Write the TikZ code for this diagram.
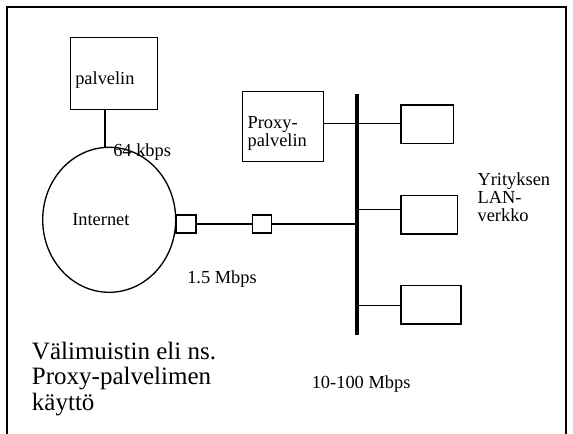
\documentclass[tikz,border=0pt]{standalone}
\usepackage{fontspec}
\setmainfont{Liberation Serif}
\usetikzlibrary{shapes.geometric}
\begin{document}
\begin{tikzpicture}[x=0.75pt,y=-0.75pt,
  wire/.style={line width=1pt},
  boxn/.style={draw,line width=1pt,inner sep=0pt,rectangle},
  lbl/.style={inner sep=0pt,anchor=base west,font=\fontsize{13.8}{13.7}\selectfont},
  mlbl/.style={lbl,align=left},
  titl/.style={inner sep=0pt,anchor=base west,align=left,font=\fontsize{18.75}{19.3}\selectfont}]
\useasboundingbox (0,0) rectangle (573,434);
% frame
\draw[line width=1.5pt] (7,440) -- (7,7) -- (566,7) -- (566,440);
% server
\node[boxn,minimum width=86.6*0.75pt,minimum height=72*0.75pt] (srv) at (114,73.3) {};
\node[lbl] (srvt) at (75,85) {palvelin};
% internet
\node[draw,ellipse,line width=1pt,inner sep=0pt,minimum width=133*0.75pt,minimum height=145*0.75pt] (net) at (109.2,219.8) {};
\node[lbl] (nett) at (72,225.7) {Internet};
\draw[wire] (srv.south -| 105,0) -- (105,147.3) coordinate (nettop);
\node[lbl] (k64) at (113,156.5) {64 kbps};
% routers
\node[boxn,fill=white,minimum width=20*0.75pt,minimum height=18*0.75pt] (ra) at (186,224) {};
\node[boxn,minimum width=19*0.75pt,minimum height=18*0.75pt] (rb) at (262.2,224) {};
\node[lbl] (m15) at (187,283.5) {1.5 Mbps};
% bus
\coordinate (bustop) at (356.7,94);
\coordinate (busbot) at (356.7,335);
\draw[line width=3pt] (bustop) -- (busbot);
% proxy
\node[boxn,minimum width=80.6*0.75pt,minimum height=70*0.75pt] (prx) at (283,126.7) {};
\node[mlbl] (prxt) at (247.3,146.7) {Proxy-\\palvelin};
% LAN hosts
\node[boxn,minimum width=52.3*0.75pt,minimum height=38.3*0.75pt] (h1) at (427.2,124.2) {};
\node[boxn,minimum width=56.7*0.75pt,minimum height=38.3*0.75pt] (h2) at (429.4,214.8) {};
\node[boxn,minimum width=60*0.75pt,minimum height=38.3*0.75pt] (h3) at (431,304.9) {};
% connectors
\draw[wire] (ra.east) -- (rb.west);
\draw[wire] (rb.east) -- (bustop |- rb.east);
\draw[wire] (prx.east |- 0,123.3) -- (h1.west |- 0,123.3);
\draw[wire] (bustop |- 0,209.3) -- (h2.west |- 0,209.3);
\draw[wire] (bustop |- 0,305.7) -- (h3.west |- 0,305.7);
\node[mlbl] (lan) at (477.3,221.7) {Yrityksen\\LAN-\\verkko};
\node[lbl] (m10) at (311.5,388) {10-100 Mbps};
\node[titl] (ttl) at (31.7,410.7) {Välimuistin eli ns.\\Proxy-palvelimen\\käyttö};
\end{tikzpicture}
\end{document}
